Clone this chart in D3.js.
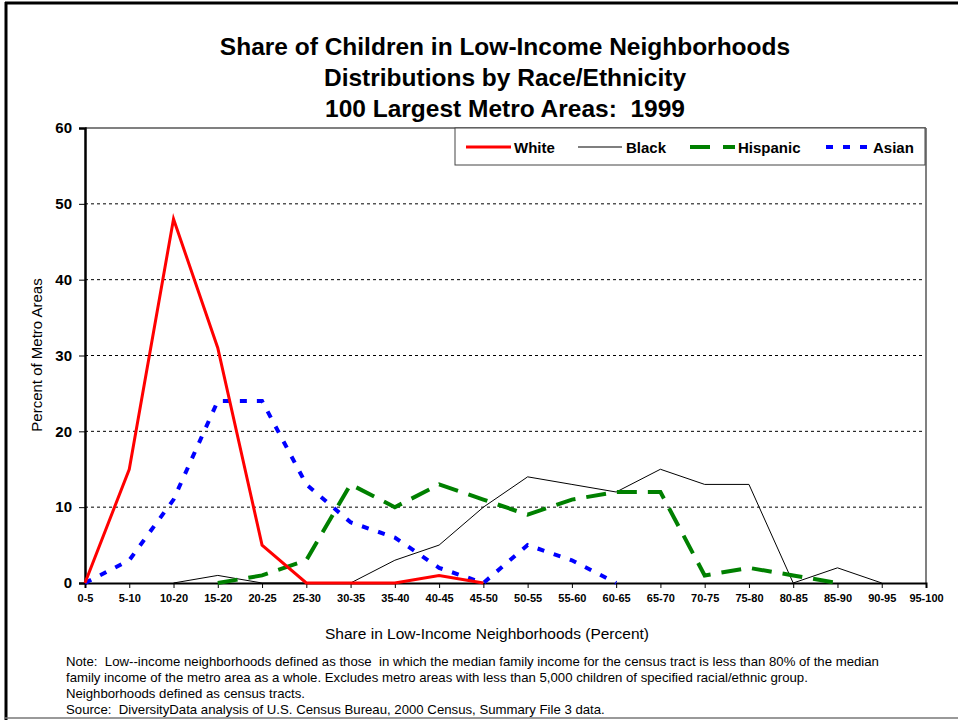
<!DOCTYPE html>
<html>
<head>
<meta charset="utf-8">
<script src="https://cdn.jsdelivr.net/npm/d3@7"></script>
<style>
  html, body { margin: 0; padding: 0; background: #fff; }
  svg { display: block; font-family: Arial, "Liberation Sans", sans-serif; }
  text { white-space: pre; }
</style>
</head>
<body>
<svg id="chart" width="958" height="720"></svg>
<script>
const categories = ["0-5","5-10","10-20","15-20","20-25","25-30","30-35","35-40","40-45","45-50",
                    "50-55","55-60","60-65","65-70","70-75","75-80","80-85","85-90","90-95","95-100"];
const white    = [0, 15, 48, 31, 5, 0, 0, 0, 1, 0, null, null, null, null, null, null, null, null, null, null];
const black    = [null, null, 0, 1, 0, 0, 0, 3, 5, 10, 14, 13, 12, 15, 13, 13, 0, 2, 0, null];
const hispanic = [null, null, null, 0, 1, 3, 13, 10, 13, 11, 9, 11, 12, 12, 1, 2, 1, 0, null, null];
const asian    = [0, 3, 11, 24, 24, 13, 8, 6, 2, 0, 5, 3, 0, null, null, null, null, null, null, null];
const yTicks = [0, 10, 20, 30, 40, 50, 60];
const seriesNames = ["White", "Black", "Hispanic", "Asian"];
const titleLines = ["Share of Children in Low-Income Neighborhoods",
                    "Distributions by Race/Ethnicity",
                    "100 Largest Metro Areas:  1999"];
const xTitle = "Share in Low-Income Neighborhoods (Percent)";
const yTitle = "Percent of Metro Areas";
const notes = [
  "Note:  Low--income neighborhoods defined as those  in which the median family income for the census tract is less than 80% of the median",
  "family income of the metro area as a whole. Excludes metro areas with less than 5,000 children of specified racial/ethnic group.",
  "Neighborhoods defined as census tracts.",
  "Source:  DiversityData analysis of U.S. Census Bureau, 2000 Census, Summary File 3 data."
];

const styles = {
  White:    {color: "#ff0000", width: 3, dash: null},
  Black:    {color: "#000000", width: 1, dash: null},
  Hispanic: {color: "#008000", width: 4, dash: "20,11"},
  Asian:    {color: "#0000ff", width: 4, dash: "7,10"}
};
const seriesData = {White: white, Black: black, Hispanic: hispanic, Asian: asian};

const svg = d3.select("#chart");
const L = 85, R = 926, T = 128, B = 583;

const x = d3.scalePoint().domain(categories).range([L, R]);
const y = d3.scaleLinear().domain([0, 60]).range([B, T]);

// outer frame
svg.append("line").attr("x1", 6).attr("x2", 6).attr("y1", 2).attr("y2", 720).attr("stroke", "#000").attr("stroke-width", 3);
svg.append("line").attr("x1", 5).attr("x2", 958).attr("y1", 3).attr("y2", 3).attr("stroke", "#000").attr("stroke-width", 3);
svg.append("line").attr("x1", 5).attr("x2", 958).attr("y1", 718).attr("y2", 718).attr("stroke", "#777").attr("stroke-width", 1.5);

// title
svg.append("g").selectAll("text").data(titleLines).join("text")
  .attr("x", 505).attr("y", (d, i) => 55 + i * 31)
  .attr("text-anchor", "middle").attr("font-size", 24.5).attr("font-weight", "bold")
  .text(d => d);

// gridlines
svg.append("g").selectAll("line").data(yTicks.filter(v => v > 0 && v < 60)).join("line")
  .attr("x1", L).attr("x2", R).attr("y1", d => y(d)).attr("y2", d => y(d))
  .attr("stroke", "#000").attr("stroke-width", 1).attr("stroke-dasharray", "3,3");

// plot frame top/right
svg.append("line").attr("x1", L).attr("x2", R).attr("y1", T).attr("y2", T).attr("stroke", "#808080").attr("stroke-width", 2);
svg.append("line").attr("x1", R).attr("x2", R).attr("y1", T).attr("y2", B).attr("stroke", "#808080").attr("stroke-width", 2);

// axes
const yAxis = d3.axisLeft(y).tickValues(yTicks).tickSize(6).tickPadding(7);
const gy = svg.append("g").attr("transform", `translate(${L},0)`).call(yAxis);
gy.select(".domain").attr("stroke", "#000").attr("stroke-width", 2.5);
gy.selectAll(".tick line").attr("stroke", "#000");
gy.selectAll(".tick text").attr("font-size", 15).attr("font-weight", "bold").attr("font-family", "Arial, 'Liberation Sans', sans-serif").attr("fill", "#000");

const xAxis = d3.axisBottom(x).tickSize(5).tickPadding(6);
const gx = svg.append("g").attr("transform", `translate(0,${B})`).call(xAxis);
gx.select(".domain").attr("stroke", "#000").attr("stroke-width", 2);
gx.selectAll(".tick line").attr("stroke", "#000");
gx.selectAll(".tick text").attr("font-size", 11).attr("font-weight", "bold").attr("font-family", "Arial, 'Liberation Sans', sans-serif").attr("fill", "#000");

// axis titles
svg.append("text").attr("x", 487).attr("y", 639).attr("text-anchor", "middle").attr("font-size", 15.5).text(xTitle);
svg.append("text").attr("transform", "translate(42,355) rotate(-90)").attr("text-anchor", "middle").attr("font-size", 15).text(yTitle);

// series lines
const line = d3.line().defined(d => d.v !== null).x(d => x(d.c)).y(d => y(d.v));
const order = ["Black", "Hispanic", "Asian", "White"];
order.forEach(name => {
  const st = styles[name];
  const data = categories.map((c, i) => ({c, v: seriesData[name][i]}));
  svg.append("path").datum(data).attr("d", line)
    .attr("fill", "none").attr("stroke", st.color).attr("stroke-width", st.width)
    .attr("stroke-dasharray", st.dash).attr("stroke-linejoin", "miter");
});

// legend
const lg = svg.append("g");
lg.append("rect").attr("x", 455).attr("y", 128).attr("width", 470).attr("height", 37)
  .attr("fill", "#fff").attr("stroke", "#444").attr("stroke-width", 1);
const legendPos = {White: [466, 511, 514], Black: [578, 622, 626], Hispanic: [690, 735, 738], Asian: [826, 867, 873]};
seriesNames.forEach(name => {
  const st = styles[name];
  const p = legendPos[name];
  lg.append("line").attr("x1", p[0]).attr("x2", p[1]).attr("y1", 147).attr("y2", 147)
    .attr("stroke", name === "Black" ? "#555" : st.color).attr("stroke-width", name === "Black" ? 1.3 : (name === "White" ? 3 : 4))
    .attr("stroke-dasharray", name === "Hispanic" ? "20,13" : (name === "Asian" ? "7,10" : null));
  lg.append("text").attr("x", p[2]).attr("y", 153).attr("font-size", 15).attr("font-weight", "bold").text(name);
});

// notes
svg.append("g").selectAll("text").data(notes).join("text")
  .attr("x", 66).attr("y", (d, i) => 666 + i * 16)
  .attr("font-size", 13.2).text(d => d);
</script>
</body>
</html>
